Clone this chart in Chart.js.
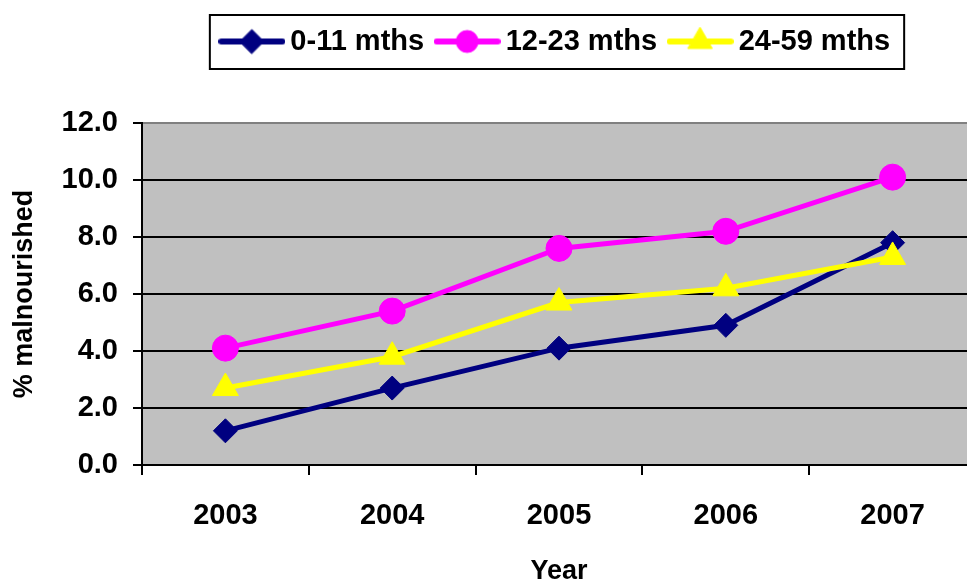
<!DOCTYPE html>
<html>
<head>
<meta charset="utf-8">
<script src="https://cdn.jsdelivr.net/npm/chart.js@4"></script>
<style>
  html, body { margin: 0; padding: 0; background: #fff; overflow: hidden; }
  #lineChart { display: block; }
</style>
</head>
<body>
<canvas id="lineChart" width="976" height="583"></canvas>
<script>
// data
var years = ['2003', '2004', '2005', '2006', '2007'];
var infants = [1.2, 2.7, 4.1, 4.9, 7.8];      // 0-11 mths
var toddlers = [4.1, 5.4, 7.6, 8.2, 10.1];    // 12-23 mths
var children = [2.7, 3.8, 5.7, 6.2, 7.3];     // 24-59 mths
var yTicks = [0, 2, 4, 6, 8, 10, 12];

var FONT = "'Liberation Sans', Arial, sans-serif";

// legend symbol: short line with the marker in the middle
function legendIcon(color, style, radius) {
  var c = document.createElement('canvas');
  c.width = 67;
  c.height = 30;
  var g = c.getContext('2d');
  g.strokeStyle = color;
  g.lineWidth = 6;
  g.lineCap = 'round';
  g.beginPath();
  g.moveTo(3, 15);
  g.lineTo(64, 15);
  g.stroke();
  g.fillStyle = color;
  g.strokeStyle = color;
  g.lineWidth = 1;
  Chart.helpers.drawPoint(g, { pointStyle: style, radius: radius, rotation: 0, borderWidth: 1 }, 33.5, 15);
  return c;
}

var data = {
  labels: years,
  datasets: [{
    label: '0-11 mths',
    data: infants,
    borderColor: '#000080',
    backgroundColor: '#000080',
    pointStyle: 'rectRot',
    pointRadius: 12,
    order: 1,
    icon: legendIcon('#000080', 'rectRot', 12)
  }, {
    label: '12-23 mths',
    data: toddlers,
    borderColor: '#FF00FF',
    backgroundColor: '#FF00FF',
    pointStyle: 'circle',
    pointRadius: 13,
    order: 2,
    icon: legendIcon('#FF00FF', 'circle', 11)
  }, {
    label: '24-59 mths',
    data: children,
    borderColor: '#FFFF00',
    backgroundColor: '#FFFF00',
    pointStyle: 'triangle',
    pointRadius: 15,
    order: 0,
    icon: legendIcon('#FFFF00', 'triangle', 14)
  }]
};

// grey plot area + legend frame
var decor = {
  id: 'decor',
  beforeLayout: function(chart) {
    var lg = chart.legend;
    if (lg && !lg._patched) {
      var fit = lg.fit;
      lg.fit = function() {
        fit.call(this);
        this.height += 57;
      };
      lg._patched = true;
    }
  },
  beforeDraw: function(chart) {
    var a = chart.chartArea;
    var ctx = chart.ctx;
    ctx.save();
    ctx.fillStyle = '#C0C0C0';
    ctx.fillRect(a.left, a.top, a.right - a.left, a.bottom - a.top);
    ctx.restore();
  },
  afterDraw: function(chart) {
    var hb = chart.legend.legendHitBoxes;
    if (!hb || !hb.length) return;
    var first = hb[0], last = hb[hb.length - 1];
    var x1 = first.left - 18, x2 = last.left + last.width + 14;
    var y1 = first.top - 12, y2 = first.top + first.height + 13;
    var ctx = chart.ctx;
    ctx.save();
    ctx.strokeStyle = '#000';
    ctx.lineWidth = 2;
    ctx.strokeRect(x1, y1, x2 - x1, y2 - y1);
    ctx.restore();
  }
};

var options = {
  responsive: false,
  animation: false,
  layout: { autoPadding: false, padding: { top: 8, left: 0, right: 0, bottom: 0 } },
  elements: {
    line: { borderWidth: 5, tension: 0 },
    point: { borderWidth: 1, hoverRadius: 12 }
  },
  plugins: {
    tooltip: { enabled: false },
    legend: {
      position: 'top',
      fullSize: false,
      labels: {
        usePointStyle: true,
        pointStyleWidth: 48,
        padding: 19,
        color: '#000',
        font: { family: FONT, size: 29, weight: 'bold' },
        generateLabels: function(chart) {
          return chart.data.datasets.map(function(ds, i) {
            return {
              text: ds.label,
              pointStyle: ds.icon,
              fillStyle: ds.backgroundColor,
              strokeStyle: ds.borderColor,
              lineWidth: 0,
              datasetIndex: i,
              fontColor: '#000'
            };
          });
        }
      }
    }
  },
  scales: {
    x: {
      offset: true,
      afterFit: function(scale) {
        scale.height = 118;
        scale.paddingLeft = 0;
        scale.paddingRight = 0;
      },
      grid: {
        offset: true,
        drawOnChartArea: false,
        drawTicks: true,
        tickLength: 10,
        color: '#000',
        lineWidth: 2
      },
      border: { display: true, color: '#000', width: 2 },
      ticks: {
        color: '#000',
        padding: 24,
        maxRotation: 0,
        font: { family: FONT, size: 29, weight: 'bold' }
      },
      title: {
        display: true,
        text: 'Year',
        color: '#000',
        padding: { top: 0, bottom: -5 },
        font: { family: FONT, size: 27, weight: 'bold' }
      }
    },
    y: {
      min: 0,
      max: 12,
      afterFit: function(scale) { scale.width = 142; },
      afterBuildTicks: function(scale) {
        scale.ticks = yTicks.map(function(v) { return { value: v }; });
      },
      grid: {
        color: function(c) { return c.tick && c.tick.value === 12 ? '#808080' : '#000'; },
        tickColor: '#000',
        lineWidth: 2,
        tickLength: 9
      },
      border: { display: true, color: '#000', width: 2 },
      ticks: {
        color: '#000',
        padding: 15,
        font: { family: FONT, size: 29, weight: 'bold' },
        callback: function(v) { return Number(v).toFixed(1); }
      },
      title: {
        display: true,
        text: '% malnourished',
        color: '#000',
        padding: { top: 8, bottom: 0 },
        font: { family: FONT, size: 27, weight: 'bold' }
      }
    }
  }
};

var ctx = document.getElementById('lineChart').getContext('2d');
new Chart(ctx, {
  type: 'line',
  data: data,
  options: options,
  plugins: [decor]
});
</script>
</body>
</html>
